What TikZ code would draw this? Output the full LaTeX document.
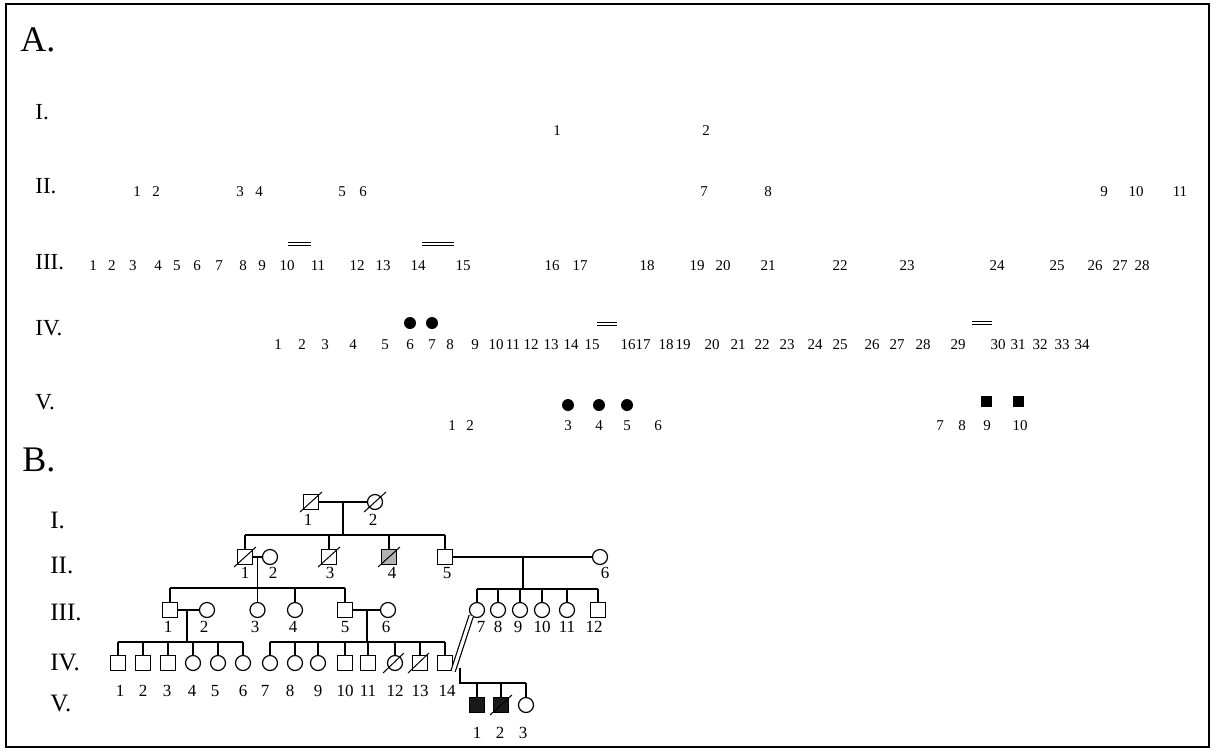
\documentclass[tikz,border=0pt]{standalone}
\usepackage{fontspec}
\setmainfont{Liberation Serif}
\usetikzlibrary{calc}
\tikzset{
  ln/.style={line width=0.6pt},
  msq/.style={draw, rectangle, minimum size=7.5pt, inner sep=0pt, line width=0.6pt, fill=white},
  fcir/.style={draw, circle, minimum size=7.5pt, inner sep=0pt, line width=0.6pt, fill=white},
  aff/.style={fill=black!90},
  grayaff/.style={fill=black!30},
  numb/.style={font=\fontsize{8.5}{8.5}\selectfont, inner sep=0pt},
  numa/.style={font=\fontsize{7.5}{7.5}\selectfont, inner sep=0pt},
  rom/.style={font=\fontsize{11.5}{11.5}\selectfont, inner sep=0pt, anchor=west},
  romb/.style={font=\fontsize{12.5}{12.5}\selectfont, inner sep=0pt, anchor=west},
  big/.style={font=\fontsize{18}{18}\selectfont, inner sep=0pt, anchor=west},
  adot/.style={circle, fill=black, minimum size=6pt, inner sep=0pt},
  asq/.style={rectangle, fill=black, minimum size=5.5pt, inner sep=0pt},
  bar/.style={double, double distance=0.8pt, line width=0.5pt},
  dslash/.style={line width=0.5pt},
}
\begin{document}
\begin{tikzpicture}[x=0.5pt,y=-0.5pt]
\useasboundingbox (0,0) rectangle (1223,751);
\draw[line width=1pt] (6,4) rectangle (1209,747);

% ---------------- Part A ----------------
\node[big] (A) at (20,40) {A.};
\node[rom] (aI) at (35,112) {I.};
\node[rom] (aII) at (35,186) {II.};
\node[rom] (aIII) at (35,262) {III.};
\node[rom] (aIV) at (35,328) {IV.};
\node[rom] (aV) at (35,402) {V.};

\foreach \x/\t in {557/1,706/2}
  \node[numa] (a1-\t) at (\x,131) {\t};
\foreach \x/\t in {137/1,156/2,240/3,259/4,342/5,363/6,704/7,768/8,1104/9,1136/10,1180/11}
  \node[numa] (a2-\t) at (\x,192) {\t};
\foreach \x/\t in {93/1,112/2,133/3,158/4,177/5,197/6,219/7,243/8,262/9,287/10,318/11,357/12,383/13,418/14,463/15,552/16,580/17,647/18,697/19,723/20,768/21,840/22,907/23,997/24,1057/25,1095/26,1120/27,1142/28}
  \node[numa] (a3-\t) at (\x,266) {\t};
\foreach \x/\t in {278/1,302/2,325/3,353/4,385/5,410/6,432/7,450/8,475/9,496/10,513/11,531/12,551/13,571/14,592/15,628/16,643/17,666/18,683/19,712/20,738/21,762/22,787/23,815/24,840/25,872/26,897/27,923/28,958/29,998/30,1018/31,1040/32,1062/33,1082/34}
  \node[numa] (a4-\t) at (\x,345) {\t};
\foreach \x/\t in {452/1,470/2,568/3,599/4,627/5,658/6,940/7,962/8,987/9,1020/10}
  \node[numa] (a5-\t) at (\x,426) {\t};

\node[adot] (s4-6) at (410,323) {};
\node[adot] (s4-7) at (432,323) {};
\node[adot] (s5-3) at (568,405) {};
\node[adot] (s5-4) at (599,405) {};
\node[adot] (s5-5) at (627,405) {};
\node[asq] (s5-9) at (986,401) {};
\node[asq] (s5-10) at (1018,401) {};

\coordinate (b1a) at (288,244); \coordinate (b1b) at (311,244);
\coordinate (b2a) at (422,244); \coordinate (b2b) at (454,244);
\coordinate (b3a) at (597,324); \coordinate (b3b) at (617,324);
\coordinate (b4a) at (972,323); \coordinate (b4b) at (992,323);
\draw[bar] (b1a) -- (b1b);
\draw[bar] (b2a) -- (b2b);
\draw[bar] (b3a) -- (b3b);
\draw[bar] (b4a) -- (b4b);

% ---------------- Part B ----------------
\node[big] (B) at (22,460) {B.};
\node[romb] (bI) at (50,520) {I.};
\node[romb] (bII) at (50,565) {II.};
\node[romb] (bIII) at (50,612) {III.};
\node[romb] (bIV) at (50,662) {IV.};
\node[romb] (bV) at (50,703) {V.};

% generation I
\node[msq] (I1) at (311,502) {};
\node[fcir] (I2) at (375,502) {};
% generation II
\node[msq] (II1) at (245,557) {};
\node[fcir] (II2) at (270,557) {};
\node[msq] (II3) at (329,557) {};
\node[msq, grayaff] (II4) at (389,557) {};
\node[msq] (II5) at (445,557) {};
\node[fcir] (II6) at (600,557) {};
% generation III
\node[msq] (III1) at (170,610) {};
\node[fcir] (III2) at (207,610) {};
\node[fcir] (III3) at (257.5,610) {};
\node[fcir] (III4) at (295,610) {};
\node[msq] (III5) at (345,610) {};
\node[fcir] (III6) at (388,610) {};
\node[fcir] (III7) at (477,610) {};
\node[fcir] (III8) at (498,610) {};
\node[fcir] (III9) at (520,610) {};
\node[fcir] (III10) at (542,610) {};
\node[fcir] (III11) at (567,610) {};
\node[msq] (III12) at (598,610) {};
% generation IV
\node[msq] (IV1) at (118,663) {};
\node[msq] (IV2) at (143,663) {};
\node[msq] (IV3) at (168,663) {};
\node[fcir] (IV4) at (193,663) {};
\node[fcir] (IV5) at (218,663) {};
\node[fcir] (IV6) at (243,663) {};
\node[fcir] (IV7) at (270,663) {};
\node[fcir] (IV8) at (295,663) {};
\node[fcir] (IV9) at (318,663) {};
\node[msq] (IV10) at (345,663) {};
\node[msq] (IV11) at (368,663) {};
\node[fcir] (IV12) at (395,663) {};
\node[msq] (IV13) at (420,663) {};
\node[msq] (IV14) at (445,663) {};
% generation V
\node[msq, aff] (V1) at (477,705) {};
\node[msq, aff] (V2) at (501,705) {};
\node[fcir] (V3) at (526,705) {};

% labels B
\node[numb] (tI1) at (308,520) {1};
\node[numb] (tI2) at (373,520) {2};
\foreach \x/\t in {245/1,273/2,330/3,392/4,447/5,605/6}
  \node[numb] (tII\t) at (\x,573) {\t};
\foreach \x/\t in {168/1,204/2,255/3,293/4,345/5,386/6,481/7,498/8,518/9,542/10,567/11,594/12}
  \node[numb] (tIII\t) at (\x,627) {\t};
\foreach \x/\t in {120/1,143/2,167/3,192/4,215/5,243/6,265/7,290/8,318/9,345/10,368/11,395/12,420/13,447/14}
  \node[numb] (tIV\t) at (\x,691) {\t};
\foreach \x/\t in {477/1,500/2,523/3}
  \node[numb] (tV\t) at (\x,733) {\t};

% connectors
\coordinate (mI) at (343,502);
\coordinate (sII) at (343,535);
\draw[ln] (I1) -- (I2);
\draw[ln] (mI) -- (sII);
\draw[ln] (II1 |- sII) -- (II5 |- sII);
\foreach \n in {II1,II3,II4,II5} \draw[ln] (\n |- sII) -- (\n);

\draw[ln] (II1) -- (II2);
\coordinate (mII) at ($(II1)!0.5!(II2)$);
\coordinate (sIII) at (257.5,588);
\draw[ln] (mII) -- (III3);
\draw[ln] (III1 |- sIII) -- (III5 |- sIII);
\foreach \n in {III1,III4,III5} \draw[ln] (\n |- sIII) -- (\n);

\draw[ln] (II5) -- (II6);
\coordinate (mII2) at (523,557);
\coordinate (sIII2) at (523,589);
\draw[ln] (mII2) -- (sIII2);
\draw[ln] (III7 |- sIII2) -- (III12 |- sIII2);
\foreach \n in {III7,III8,III9,III10,III11,III12} \draw[ln] (\n |- sIII2) -- (\n);

\draw[ln] (III1) -- (III2);
\coordinate (mIII1) at (187,610);
\coordinate (sIV1) at (187,642);
\draw[ln] (mIII1) -- (sIV1);
\draw[ln] (IV1 |- sIV1) -- (IV6 |- sIV1);
\foreach \n in {IV1,IV2,IV3,IV4,IV5,IV6} \draw[ln] (\n |- sIV1) -- (\n);

\draw[ln] (III5) -- (III6);
\coordinate (mIII5) at (367,610);
\coordinate (sIV2) at (367,642);
\draw[ln] (mIII5) -- (sIV2);
\draw[ln] (IV7 |- sIV2) -- (IV14 |- sIV2);
\foreach \n in {IV7,IV8,IV9,IV10,IV11,IV12,IV13,IV14} \draw[ln] (\n |- sIV2) -- (\n);

\draw[ln, double, double distance=1.6pt] (IV14.south east) -- (III7.south west);
\coordinate (mV) at (460,668);
\coordinate (sV) at (460,683);
\draw[ln] (mV) -- (sV) -- (V3 |- sV);
\foreach \n in {V1,V2,V3} \draw[ln] (\n |- sV) -- (\n);

% deceased slashes
\foreach \n in {I1,I2,II1,II3,II4,V2}
  \draw[dslash] ([shift={(-11,10)}]\n.center) -- ([shift={(11,-10)}]\n.center);
\foreach \n in {IV12,IV13}
  \draw[dslash] ([shift={(-12,10)}]\n.center) -- ([shift={(9,-10)}]\n.center);
\end{tikzpicture}
\end{document}
